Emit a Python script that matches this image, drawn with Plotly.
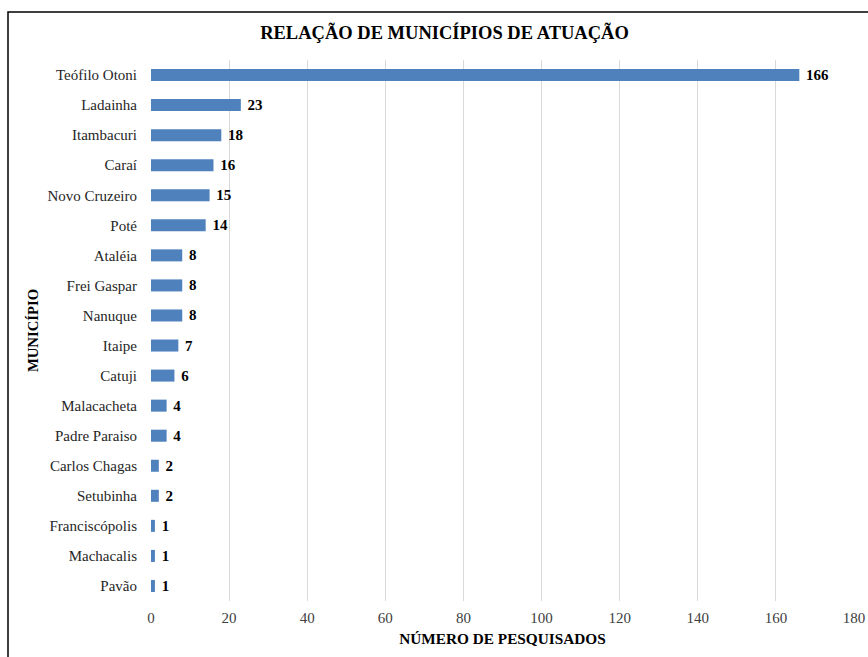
import plotly.graph_objects as go

municipios = ["Teófilo Otoni", "Ladainha", "Itambacuri", "Caraí", "Novo Cruzeiro",
              "Poté", "Ataléia", "Frei Gaspar", "Nanuque", "Itaipe", "Catuji",
              "Malacacheta", "Padre Paraiso", "Carlos Chagas", "Setubinha",
              "Franciscópolis", "Machacalis", "Pavão"]
pesquisados = [166, 23, 18, 16, 15, 14, 8, 8, 8, 7, 6, 4, 4, 2, 2, 1, 1, 1]
x_ticks = [0, 20, 40, 60, 80, 100, 120, 140, 160, 180]

serif = "Liberation Serif"

fig = go.Figure(go.Bar(
    x=pesquisados,
    y=municipios,
    orientation="h",
    marker=dict(color="#4f81bd", line=dict(width=0)),
    text=[f" <b>{v}</b>" for v in pesquisados],
    textposition="outside",
    constraintext="none",
    textfont=dict(family=serif, size=15, color="#000000"),
    cliponaxis=False,
))

fig.update_layout(
    width=868, height=657,
    margin=dict(l=151, r=14, t=60, b=56, autoexpand=False),
    paper_bgcolor="white", plot_bgcolor="white",
    bargap=0.6,
    showlegend=False,
    font=dict(family=serif),
    title=dict(text="<b>RELAÇÃO DE MUNICÍPIOS DE ATUAÇÃO</b>",
               font=dict(family=serif, size=18.5, color="#000000"),
               x=444.5 / 868, xanchor="center", y=1 - 33 / 657, yanchor="middle"),
    xaxis=dict(range=[0, 180], tickvals=x_ticks, showgrid=True,
               gridcolor="#d9d9d9", gridwidth=1, zeroline=False,
               showline=False, ticks="", automargin=False,
               ticklabelstandoff=6,
               tickfont=dict(family=serif, size=15, color="#404040"),
               title=dict(text="<b>NÚMERO DE PESQUISADOS</b>",
                          font=dict(family=serif, size=15.3, color="#000000"),
                          standoff=8)),
    yaxis=dict(autorange="reversed", showgrid=False, ticks="", showline=False,
               automargin=False, ticklabelstandoff=13,
               tickfont=dict(family=serif, size=15, color="#262626"),
               title=dict(text="<b>MUNICÍPIO</b>",
                          font=dict(family=serif, size=14.7, color="#000000"),
                          standoff=5)),
)

# chart frame
fig.add_shape(type="rect", xref="paper", yref="paper",
              x0=(8 - 151) / 703, x1=(880 - 151) / 703,
              y0=(601 - 670) / 541, y1=(601 - 12) / 541,
              line=dict(color="#000000", width=1.5), fillcolor="rgba(0,0,0,0)",
              layer="above")

fig.write_html("out.html")
